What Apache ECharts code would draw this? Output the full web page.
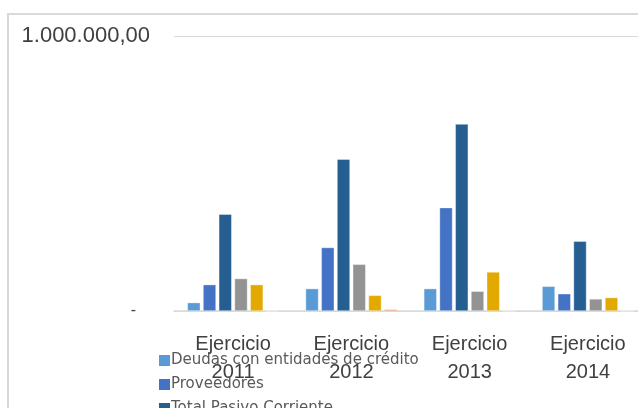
<!DOCTYPE html>
<html>
<head>
<meta charset="utf-8">
<script src="https://cdn.jsdelivr.net/npm/echarts@6/dist/echarts.min.js"></script>
<style>html,body{margin:0;padding:0;background:#fff;overflow:hidden;width:638px;height:408px;}#c{width:660px;height:408px;}</style>
</head>
<body>
<div id="c"></div>
<script>
var categories = ['Ejercicio\n2011', 'Ejercicio\n2012', 'Ejercicio\n2013', 'Ejercicio\n2014'];
var seriesNames = ['Deudas con entidades de crédito', 'Proveedores', 'Total Pasivo Corriente', 'Acreedores varios', 'Otras deudas', 'Deudas con empresas del grupo'];
var deudasCredito = [30600, 81500, 81500, 90000];
var proveedores = [96000, 231000, 376000, 63000];
var totalPasivo = [352000, 552000, 680000, 254000];
var acreedores = [118000, 170000, 72000, 44000];
var otrasDeudas = [96000, 57000, 142000, 49000];
var deudasGrupo = [0, 6000, 0, 0];
var yTicks = [0, 1000000];
var colors = ['#5b9bd5', '#4472c4', '#255e91', '#939393', '#e2aa00', '#e28a5a'];

var values = [deudasCredito, proveedores, totalPasivo, acreedores, otrasDeudas, deudasGrupo];

function fmtEs(v) {
  var s = Math.round(v).toString().replace(/\B(?=(\d{3})+(?!\d))/g, '.');
  return s + ',00';
}

var chart = echarts.init(document.getElementById('c'), null, {renderer: 'canvas'});
var series = values.map(function (arr, i) {
  return {
    name: seriesNames[i],
    type: 'bar',
    data: arr,
    barWidth: 13,
    barGap: '21%',
    itemStyle: {color: colors[i], borderColor: 'rgba(255,255,255,0.6)', borderWidth: 0.6},
    emphasis: {disabled: true}
  };
});

chart.setOption({
  animation: false,
  backgroundColor: '#ffffff',
  color: colors,
  graphic: [{
    type: 'rect',
    shape: {x: 8, y: 14, width: 700, height: 500},
    style: {fill: 'none', stroke: '#d9d9d9', lineWidth: 2},
    silent: true,
    z: -1
  }],
  grid: {left: 174, right: 13, top: 36, bottom: 97, containLabel: false},
  xAxis: {
    type: 'category',
    data: categories,
    axisLine: {show: true, lineStyle: {color: '#d9d9d9', width: 1.5}},
    axisTick: {show: false},
    axisLabel: {
      margin: 19,
      fontFamily: 'Liberation Sans',
      fontSize: 20,
      lineHeight: 28,
      color: '#404040',
      interval: 0
    }
  },
  yAxis: {
    type: 'value',
    min: yTicks[0],
    max: yTicks[1],
    interval: yTicks[1] - yTicks[0],
    axisLine: {show: false},
    axisTick: {show: false},
    splitLine: {show: true, lineStyle: {color: '#d9d9d9', width: 1}},
    axisLabel: {
      margin: 24,
      fontFamily: 'Liberation Sans',
      fontSize: 22,
      color: '#404040',
      formatter: function (v) {
        return v === 0 ? '{z|-}' : fmtEs(v);
      },
      rich: {z: {fontFamily: 'Liberation Sans', fontSize: 16, color: '#404040', padding: [0, 14, 0, 0]}}
    }
  },
  legend: {
    orient: 'vertical',
    left: 159,
    top: 353,
    height: 300,
    padding: 0,
    itemWidth: 11,
    itemHeight: 11,
    itemGap: 9,
    icon: 'rect',
    itemStyle: {borderWidth: 0},
    textStyle: {fontFamily: 'DejaVu Sans', fontSize: 15, lineHeight: 14, color: '#595959', padding: [0, 0, 0, -4]},
    data: seriesNames
  },
  series: series
});
</script>
</body>
</html>
